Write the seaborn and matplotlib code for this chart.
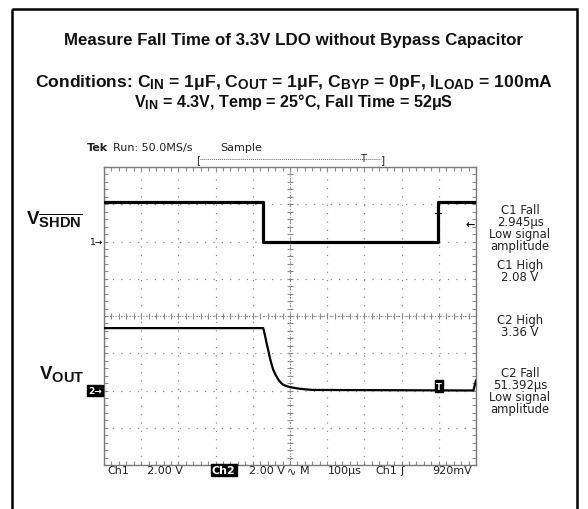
import numpy as np
import pandas as pd
import matplotlib
matplotlib.use("Agg")
import matplotlib.pyplot as plt
from matplotlib import transforms
import matplotlib._mathtext as _mt
import seaborn as sns

# ---------------- data ----------------
VOLTS_PER_DIV = 2.0          # both channels 2.00 V/div
TIME_PER_DIV_US = 100.0      # 100 us/div
CH1_OFFSET_DIV = 2.0         # ground marker "1" position (divisions from centre)
CH2_OFFSET_DIV = -2.0        # ground marker "2" position
TRIG_LEVEL_V = 0.92          # Ch1 trigger level 920 mV
TRIG_TIME_US = 899           # trigger point

ch1_time_us = [0, 428, 428, 899, 899, 1000]
ch1_volts = [2.1, 2.1, 0.0, 0.0, 2.1, 2.1]

ch2_time_us = [0, 428, 433, 437, 442, 446, 451, 455, 462, 469, 475, 482,
               500, 527, 560, 993, 1000]
ch2_volts = [3.35, 3.35, 2.94, 2.54, 2.13, 1.74, 1.37, 1.11, 0.81, 0.57, 0.43,
             0.30, 0.18, 0.09, 0.03, 0.0, 0.55]

meas_labels = [
    ("C1 Fall\n2.945μs\nLow signal\namplitude", 228.5),
    ("C1 High\n2.08 V", 272.0),
    ("C2 High\n3.36 V", 326.5),
    ("C2 Fall\n51.392μs\nLow signal\namplitude", 392.0),
]

title = "Measure Fall Time of 3.3V LDO without Bypass Capacitor"
cond1 = (r"Conditions: $\mathbf{C}_{\mathbf{IN}}$ = 1μF, $\mathbf{C}_{\mathbf{OUT}}$ = 1μF, "
         r"$\mathbf{C}_{\mathbf{BYP}}$ = 0pF, $\mathbf{I}_{\mathbf{LOAD}}$ = 100mA")
cond2 = r"$\mathbf{V}_{\mathbf{IN}}$ = 4.3V, Temp = 25°C, Fall Time = 52μS"

# ---------------- style ----------------
sns.set_theme(style="white")
plt.rcParams["font.family"] = ["DejaVu Sans"]
plt.rcParams["mathtext.fontset"] = "custom"
plt.rcParams["mathtext.rm"] = "Liberation Sans:bold"
plt.rcParams["mathtext.bf"] = "Liberation Sans:bold"
plt.rcParams["mathtext.it"] = "Liberation Sans:bold"
_mt.SHRINK_FACTOR = 0.78   # larger subscripts, as in the reference

W, H = 588, 510
fig = plt.figure(figsize=(W / 100, H / 100), dpi=100)
fig.patch.set_facecolor("white")

# scope screen axes (pixel box 104..476 x 168..466)
L, T, R, B = 104, 168, 476, 466
ax = fig.add_axes([L / W, (H - B) / H, (R - L) / W, (B - T) / H])
ax.set_facecolor("white")

df1 = pd.DataFrame({"time": ch1_time_us, "volts": ch1_volts})
df1["div"] = CH1_OFFSET_DIV + df1["volts"] / VOLTS_PER_DIV
df2 = pd.DataFrame({"time": ch2_time_us, "volts": ch2_volts})
df2["div"] = CH2_OFFSET_DIV + df2["volts"] / VOLTS_PER_DIV

grid_col = "#8a8a8a"
ax.set_xlim(0, 10 * TIME_PER_DIV_US)
ax.set_ylim(-4, 4)
ax.set_xticks(np.arange(0, 1001, 100))
ax.set_yticks(np.arange(-4, 5, 1))
ax.set_xticks(np.arange(0, 1001, 20), minor=True)
ax.set_yticks(np.arange(-4, 4.01, 0.2), minor=True)
ax.tick_params(which="both", direction="in", length=3, width=0.8, color=grid_col,
               top=True, right=True, bottom=True, left=True,
               labelbottom=False, labelleft=False)
ax.grid(True, which="major", color=grid_col, linestyle=(0, (1.0, 5.7)), lw=0.9)
for s in ax.spines.values():
    s.set_color("#7a7a7a")
    s.set_linewidth(1.0)

# centre cross lines with tick marks
ax.axhline(0, color=grid_col, lw=0.8, linestyle=(0, (1, 1.5)), zorder=1)
ax.axvline(500, color=grid_col, lw=0.8, linestyle=(0, (1, 1.5)), zorder=1)
mx = np.arange(0, 1001, 20)
my = np.arange(-4, 4.01, 0.2)
ax.plot(mx, np.zeros_like(mx), ls="none", marker="|", ms=5, mew=0.8, color=grid_col, zorder=1)
ax.plot(np.full_like(my, 500), my, ls="none", marker="_", ms=5, mew=0.8, color=grid_col, zorder=1)

sns.lineplot(data=df1, x="time", y="div", color="black", lw=2.3, sort=False,
             estimator=None, ax=ax, zorder=3)
sns.lineplot(data=df2, x="time", y="div", color="black", lw=1.6, sort=False,
             estimator=None, ax=ax, zorder=3)
ax.set_xlabel("")
ax.set_ylabel("")

# trigger markers
ch1_trig_div = CH1_OFFSET_DIV + TRIG_LEVEL_V / VOLTS_PER_DIV
ax.plot([TRIG_TIME_US - 2, TRIG_TIME_US - 2], [ch1_trig_div + 0.05, ch1_trig_div + 0.3],
        color="black", lw=0.9, zorder=4)
ax.plot([TRIG_TIME_US - 10, TRIG_TIME_US + 6], [ch1_trig_div + 0.3, ch1_trig_div + 0.3],
        color="black", lw=0.9, zorder=4)
ax.text(984, ch1_trig_div, "←", ha="center", va="center", fontsize=8,
        fontweight="bold", color="black", zorder=5)
ax.text(TRIG_TIME_US + 2, CH2_OFFSET_DIV + 0.12, "T", ha="center", va="center",
        fontsize=6, fontweight="bold", color="white", zorder=5,
        bbox=dict(boxstyle="square,pad=0.15", fc="black", ec="black"))

# ---------------- overlay in pixel coordinates ----------------
ov = fig.add_axes([0, 0, 1, 1], zorder=5)
ov.set_xlim(0, W)
ov.set_ylim(H, 0)
ov.axis("off")

ov.add_patch(plt.Rectangle((12, 10), 565, 520, fill=False, ec="black", lw=1.8))

hfont = dict(family=["Liberation Sans", "DejaVu Sans"], fontweight="bold", color="#111111")
ov.text(294, 41, title, ha="center", va="center", fontsize=12.2, **hfont)
ov.text(294, 82, cond1, ha="center", va="center", fontsize=12.6, **hfont)
ov.text(294, 102, cond2, ha="center", va="center", fontsize=11.6, **hfont)

blend = transforms.blended_transform_factory(ov.transData, ax.transData)
ov.text(26, CH1_OFFSET_DIV + 0.6, r"$\mathbf{V}_{\overline{\mathbf{SHDN}}}$", transform=blend,
        ha="left", va="center", fontsize=13.5, **hfont)
ov.text(39, CH2_OFFSET_DIV + 0.47, r"$\mathbf{V}_{\mathbf{OUT}}$", transform=blend,
        ha="left", va="center", fontsize=13.5, **hfont)
ov.text(103, CH1_OFFSET_DIV, "1→", transform=blend, ha="right", va="center",
        fontsize=6.5, color="black")
ov.text(102, CH2_OFFSET_DIV, "2→", transform=blend, ha="right", va="center",
        fontsize=6.5, fontweight="bold", color="white",
        bbox=dict(boxstyle="square,pad=0.15", fc="black", ec="black"))

tfont = dict(family=["DejaVu Sans"], color="#222222")
ov.text(87, 148, "Tek", ha="left", va="center", fontsize=8, fontweight="bold", **tfont)
ov.text(113, 148, "Run: 50.0MS/s", ha="left", va="center", fontsize=8, **tfont)
ov.text(220, 148, "Sample", ha="left", va="center", fontsize=8, **tfont)
ov.text(198, 160, "[", ha="center", va="center", fontsize=7.5, **tfont)
ov.text(383, 160, "]", ha="center", va="center", fontsize=7.5, **tfont)
ov.plot([200, 381], [159.5, 159.5], color="#666666", lw=0.7, ls=(0, (1, 1)))
ov.text(363, 159, "T", ha="center", va="center", fontsize=7, **tfont)

for txt, yc in meas_labels:
    ov.text(520, yc, txt, ha="center", va="center", fontsize=8.4,
            linespacing=0.9, **tfont)

bfont = dict(family=["DejaVu Sans"], fontsize=8, va="center", color="#222222")
yb = 471
ov.text(107, yb, "Ch1", ha="left", **bfont)
ov.text(147, yb, "2.00 V", ha="left", **bfont)
ov.text(212, yb, "Ch2", ha="left", fontweight="bold", family=["DejaVu Sans"], fontsize=8,
        va="center", color="white",
        bbox=dict(boxstyle="square,pad=0.1", fc="black", ec="black"))
ov.text(249, yb, "2.00 V", ha="left", **bfont)
ov.text(287, yb, "∿", ha="left", **bfont)
ov.text(300, yb, "M", ha="left", **bfont)
ov.text(328, yb, "100μs", ha="left", **bfont)
ov.text(375, yb, "Ch1", ha="left", **bfont)
ov.text(400, yb, "ʃ", ha="left", **bfont)
ov.text(472, yb, "920mV", ha="right", **bfont)

fig.savefig("out.png", dpi=100)
